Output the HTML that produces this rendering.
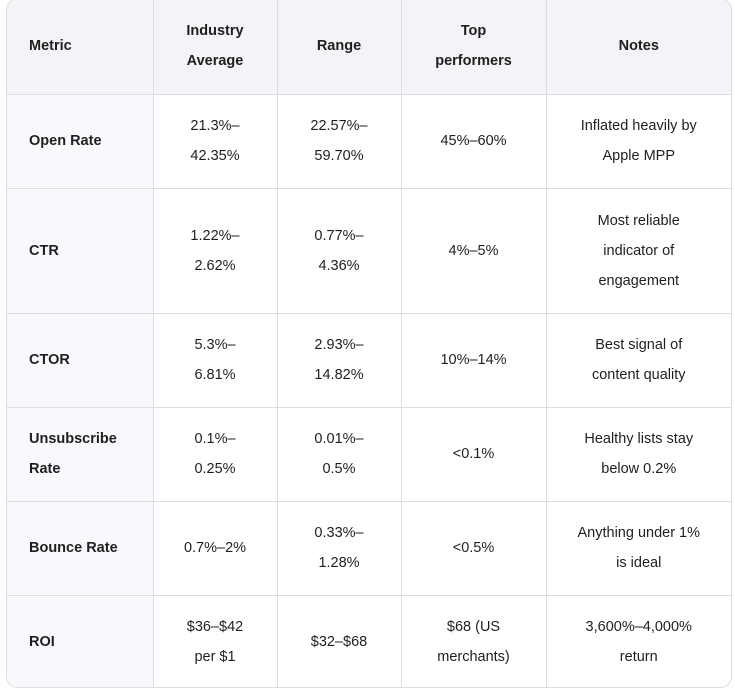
<!DOCTYPE html>
<html><head><style>
body{margin:0;background:#fff;width:735px;height:692px;overflow:hidden;font-family:"Liberation Sans",sans-serif;}
.wrap{position:absolute;left:6px;top:-2px;width:726px;height:690px;border:1px solid #dcdde0;border-radius:12px;overflow:hidden;box-sizing:border-box;}
table{border-collapse:collapse;width:100%;table-layout:fixed;font-size:14.5px;color:#1f1f1f;}
td,th{border-right:1px solid #dcdde0;border-bottom:1px solid #dcdde0;text-align:center;line-height:30px;padding:0 12px;}
td:last-child,th:last-child{border-right:none;}
tr:last-child td{border-bottom:none;}
th{background:#f3f4f7;font-weight:bold;}
th:first-child,td:first-child{text-align:left;padding-left:22px;font-weight:bold;}
td:first-child{background:#f8f9fc;}
</style></head><body>
<div class="wrap"><table>
<colgroup><col style="width:146px"><col style="width:124px"><col style="width:124px"><col style="width:145px"><col></colgroup>
<tr style="height:95px"><th>Metric</th><th>Industry<br>Average</th><th>Range</th><th>Top<br>performers</th><th>Notes</th></tr>
<tr style="height:94px"><td>Open Rate</td><td>21.3%–<br>42.35%</td><td>22.57%–<br>59.70%</td><td>45%–60%</td><td>Inflated heavily by<br>Apple MPP</td></tr>
<tr style="height:125px"><td>CTR</td><td>1.22%–<br>2.62%</td><td>0.77%–<br>4.36%</td><td>4%–5%</td><td>Most reliable<br>indicator of<br>engagement</td></tr>
<tr style="height:94px"><td>CTOR</td><td>5.3%–<br>6.81%</td><td>2.93%–<br>14.82%</td><td>10%–14%</td><td>Best signal of<br>content quality</td></tr>
<tr style="height:94px"><td>Unsubscribe<br>Rate</td><td>0.1%–<br>0.25%</td><td>0.01%–<br>0.5%</td><td>&lt;0.1%</td><td>Healthy lists stay<br>below 0.2%</td></tr>
<tr style="height:94px"><td>Bounce Rate</td><td>0.7%–2%</td><td>0.33%–<br>1.28%</td><td>&lt;0.5%</td><td>Anything under 1%<br>is ideal</td></tr>
<tr style="height:94px"><td>ROI</td><td>$36–$42<br>per $1</td><td>$32–$68</td><td>$68 (US<br>merchants)</td><td>3,600%–4,000%<br>return</td></tr>
</table></div>
</body></html>
